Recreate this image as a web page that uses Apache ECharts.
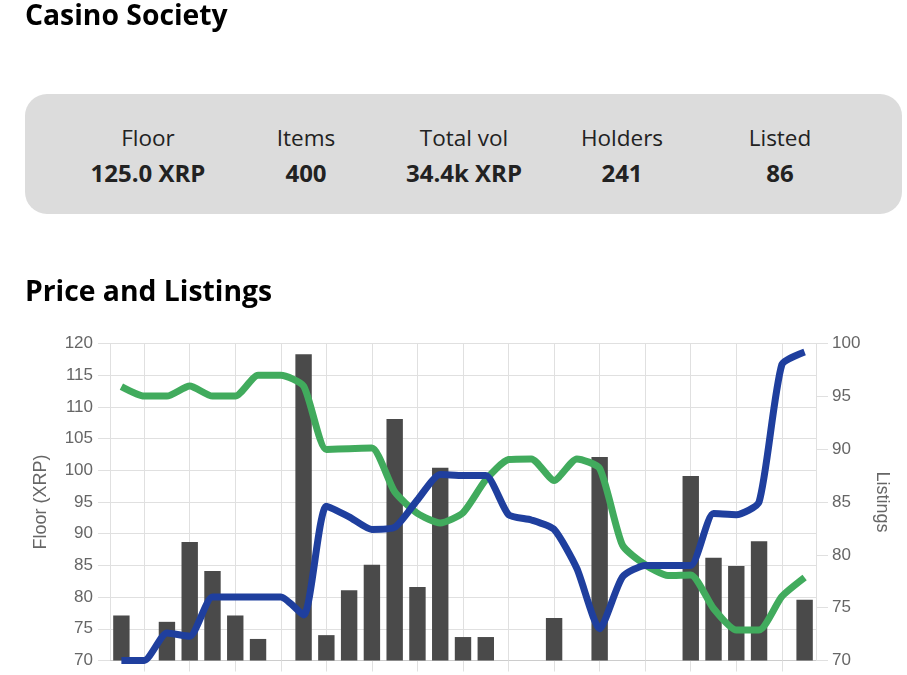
<!DOCTYPE html>
<html>

<head>
  <meta charset="utf-8" />
  <script src="https://cdn.jsdelivr.net/npm/echarts@6/dist/echarts.min.js"></script>
  <style>
    html, body { margin: 0; padding: 0; background: #fff; overflow: hidden; width: 907px; height: 675px; }
    body { font-family: "Open Sans", "Noto Sans", sans-serif; position: relative; }
    h2 { position: absolute; left: 25px; margin: 0; font-size: 28.3px; line-height: 36px; font-weight: 700; color: #000; white-space: nowrap; }
    #title { top: -4px; }
    #subtitle { top: 272px; }
    #panel { position: absolute; left: 25px; top: 94px; width: 877px; height: 120px; background: #dcdcdc; border-radius: 22px; }
    .stat { position: absolute; top: 26px; width: 158px; text-align: center; color: #222; font-size: 22.5px; }
    .stat div { height: 35px; line-height: 35px; }
    .stat .val { font-weight: 700; font-size: 24px; }
    #chart { position: absolute; left: 0; top: 0; width: 907px; height: 675px; }
  </style>
</head>

<body>
  <div id="chart"></div>
  <h2 id="title">Casino Society</h2>
  <div id="panel"></div>
  <h2 id="subtitle">Price and Listings</h2>
  <script>
    var statLabels = ['Floor', 'Items', 'Total vol', 'Holders', 'Listed'];
    var statValues = ['125.0 XRP', '400', '34.4k XRP', '241', '86'];

    var categories = ['1', '2', '3', '4', '5', '6', '7', '8', '9', '10', '11', '12', '13', '14', '15', '16',
      '17', '18', '19', '20', '21', '22', '23', '24', '25', '26', '27', '28', '29', '30', '31'];
    var floorTicks = [70, 120, 5];
    var listingTicks = [70, 100, 5];

    var barValues = [77.1, null, 76.1, 88.7, 84.1, 77.1, 73.4, null, 118.3, 74, 81.1, 85.1, 108.1, 81.6, 100.4, 73.7,
      73.7, null, null, 76.7, null, 102.1, null, null, null, 99.1, 86.2, 84.9, 88.8, null, 79.6];
    var floorValues = [113.2, 111.7, 111.7, 113.3, 111.7, 111.7, 115, 115, 113.3, 103.3, 103.4, 103.5, 96.6, 93.2, 91.7, 93.3,
      98.5, 101.7, 101.8, 98.4, 101.8, 100.3, 88.2, 85.1, 83.4, 83.5, 78.2, 74.8, 74.8, 80.1, 83.1];
    var listingValues = [70, 70, 72.6, 72.3, 76, 76, 76, 76, 74.3, 84.6, 83.6, 82.4, 82.6, 85.2, 87.6, 87.5,
      87.5, 83.8, 83.3, 82.4, 78.7, 73, 77.9, 79, 79, 79, 83.9, 83.8, 85, 98, 99.2];

    var panel = document.getElementById('panel');
    statLabels.forEach(function (label, i) {
      var el = document.createElement('div');
      el.className = 'stat';
      el.style.left = (44 + i * 158) + 'px';
      el.innerHTML = '<div>' + label + '</div><div class="val">' + statValues[i] + '</div>';
      panel.appendChild(el);
    });

    var textColor = '#666';
    var gridColor = '#e0e0e0';
    var fontFamily = '"Liberation Sans", Arial, sans-serif';

    // every second category gets a vertical line, starting at the second
    var oddIndex = function (i) { return i % 2 === 1; };

    var yAxisBase = function (ticks, name, position, gap, margin) {
      return {
        type: 'value',
        name: name,
        position: position,
        nameLocation: 'middle',
        nameGap: gap,
        nameTextStyle: { color: textColor, fontSize: 18, fontFamily: fontFamily },
        min: ticks[0],
        max: ticks[1],
        interval: ticks[2],
        axisLine: { show: true, lineStyle: { color: gridColor } },
        axisTick: { show: true, length: 12, lineStyle: { color: gridColor } },
        axisLabel: { color: textColor, fontSize: 17, fontFamily: fontFamily, margin: margin },
        splitLine: { show: false }
      };
    };

    var leftAxis = yAxisBase(floorTicks, 'Floor (XRP)', 'left', 60, 17);
    leftAxis.splitLine = { show: true, lineStyle: { color: gridColor, width: 1 } };
    var rightAxis = yAxisBase(listingTicks, 'Listings', 'right', 57, 16);
    rightAxis.nameRotate = -90;

    var myChart = echarts.init(document.getElementById('chart'));
    myChart.setOption({
      animation: false,
      grid: { left: 110, right: 91, top: 343.5, bottom: 14.5 },
      xAxis: {
        type: 'category',
        data: categories,
        boundaryGap: true,
        axisLine: { show: true, lineStyle: { color: '#ccc' } },
        axisTick: { show: true, alignWithLabel: true, interval: oddIndex, length: 11, lineStyle: { color: gridColor } },
        axisLabel: { show: false },
        splitLine: { show: true, alignWithLabel: true, interval: oddIndex, lineStyle: { color: gridColor, width: 1 } }
      },
      yAxis: [leftAxis, rightAxis],
      series: [
        {
          name: 'Volume',
          type: 'bar',
          yAxisIndex: 0,
          data: barValues,
          barWidth: 16.4,
          itemStyle: { color: '#4a4a4a' },
          z: 1
        },
        {
          name: 'Floor',
          type: 'line',
          yAxisIndex: 0,
          data: floorValues,
          smooth: 0.2,
          showSymbol: false,
          clip: false,
          lineStyle: { color: '#41ab5d', width: 7 },
          z: 3
        },
        {
          name: 'Listings',
          type: 'line',
          yAxisIndex: 1,
          data: listingValues,
          smooth: 0.2,
          showSymbol: false,
          clip: false,
          lineStyle: { color: '#1f3f9e', width: 7 },
          z: 4
        }
      ]
    });
  </script>
</body>

</html>
